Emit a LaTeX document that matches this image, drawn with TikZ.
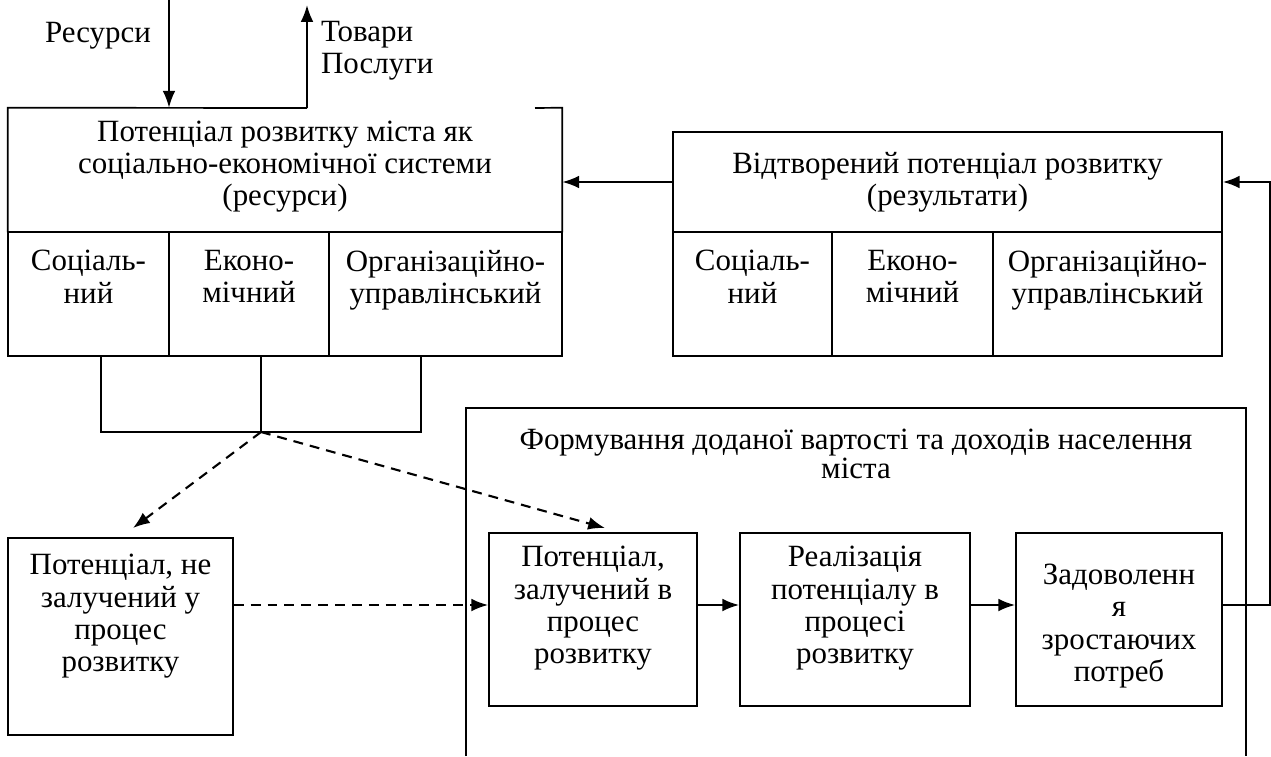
\documentclass[tikz,border=0pt]{standalone}
\usepackage{fontspec}
\setmainfont{Liberation Serif}
\usetikzlibrary{positioning,arrows.meta}

\tikzset{
	box/.style={draw,line width=1.2pt,inner sep=0pt},
	txt/.style={align=center,font=\fontsize{22}{23}\selectfont,inner sep=2pt},
	arr/.style={line width=1.5pt,-{Latex[length=0.42cm,width=0.32cm]}},
	darr/.style={line width=1.5pt,dash pattern=on 7pt off 5pt,-{Latex[length=0.42cm,width=0.32cm]}},
}

\begin{document}
\begin{tikzpicture}
	\useasboundingbox (0,0) rectangle (31.775,-18.9);
	% city potential
	\node[inner sep=0pt,minimum width=13.85cm,minimum height=3.1cm] (pot) at (7.125,-4.25) {};
	\node[txt,below=0.25cm of pot.north] (pottxt) {Потенціал розвитку міста як\\соціально-економічної системи\\(ресурси)};
	\node[box,minimum width=4.025cm,minimum height=3.1cm] (soc) at (2.2125,-7.35) {};
	\node[box,minimum width=4cm,minimum height=3.1cm] (eco) at (6.225,-7.35) {};
	\node[box,minimum width=5.825cm,minimum height=3.1cm] (org) at (11.1375,-7.35) {};
	\node[txt,below=0.4cm of soc.north] (soctxt) {Соціаль-\\ний};
	\node[txt,below=0.4cm of eco.north] (ecotxt) {Еконо-\\мічний};
	\node[txt,below=0.4cm of org.north] (orgtxt) {Організаційно-\\управлінський};
	\coordinate (tov) at (7.675,-2.7);
	\coordinate (gap) at (13.375,-2.7);
	\draw[line width=1.2pt] (tov) -- (pot.north west) -- (pot.south west);
	\draw[line width=1.2pt] (gap) -- (pot.north east) -- (pot.south east);
	% inputs and outputs
	\coordinate (resin) at (4.225,0);
	\coordinate (tovout) at (7.675,-0.125);
	\draw[arr] (resin) -- (resin |- pot.north);
	\draw[arr] (tov) -- (tovout);
	\node[txt,anchor=east] (reslbl) at (3.85,-0.9) {Ресурси};
	\node[txt,anchor=north west,align=left] (tovlbl) at (7.95,-0.45) {Товари\\Послуги};
	% reproduced potential
	\node[box,minimum width=13.725cm,minimum height=2.5cm] (res) at (23.6875,-4.55) {};
	\node[txt] (restxt) at (res) {Відтворений потенціал розвитку\\(результати)};
	\node[box,minimum width=3.975cm,minimum height=3.1cm] (socr) at (18.8125,-7.35) {};
	\node[box,minimum width=4.025cm,minimum height=3.1cm] (ecor) at (22.8125,-7.35) {};
	\node[box,minimum width=5.725cm,minimum height=3.1cm] (orgr) at (27.6875,-7.35) {};
	\node[txt,below=0.4cm of socr.north] (socrtxt) {Соціаль-\\ний};
	\node[txt,below=0.4cm of ecor.north] (ecortxt) {Еконо-\\мічний};
	\node[txt,below=0.4cm of orgr.north] (orgrtxt) {Організаційно-\\управлінський};
	\draw[arr] (res.west) -- (res.west -| pot.east);
	% split
	\coordinate (bl) at (2.525,-8.9);
	\coordinate (bm) at (6.525,-8.9);
	\coordinate (br) at (10.525,-8.9);
	\coordinate (hub) at (6.525,-10.8);
	\draw[line width=1.2pt] (bl) |- (hub) -| (br);
	\draw[line width=1.2pt] (bm) -- (hub);
	% not involved
	\node[box,minimum width=5.625cm,minimum height=4.925cm] (nz) at (3.0125,-15.9125) {};
	\node[txt,below=0.35cm of nz.north] (nztxt) {Потенціал, не\\залучений у\\процес\\розвитку};
	% value added
	\draw[line width=1.2pt] (11.65,-18.9) |- (31.15,-10.2) -- (31.15,-18.9);
	\node[txt,font=\fontsize{22}{21}\selectfont] (formtxt) at (21.4,-11.35) {Формування доданої вартості та доходів населення\\міста};
	\node[box,minimum width=5.2cm,minimum height=4.325cm] (b1) at (14.825,-15.4875) {};
	\node[box,minimum width=5.75cm,minimum height=4.325cm] (b2) at (21.375,-15.4875) {};
	\node[box,minimum width=5.15cm,minimum height=4.325cm] (b3) at (27.975,-15.4875) {};
	\node[txt,below=0.28cm of b1.north] (b1txt) {Потенціал,\\залучений в\\процес\\розвитку};
	\node[txt,below=0.28cm of b2.north] (b2txt) {Реалізація\\потенціалу в\\процесі\\розвитку};
	\node[txt,below=0.72cm of b3.north] (b3txt) {Задоволенн\\я\\зростаючих\\потреб};
	% flows
	\coordinate (mid) at (0,-15.125);
	\coordinate (nzin) at (3.325,-13.2);
	\coordinate (b1in) at (15.125,-13.2);
	\coordinate (fb) at (31.75,-10);
	\draw[darr] (hub) -- (nzin);
	\draw[darr] (hub) -- (b1in);
	\draw[darr] (nz.east |- mid) -- (b1.west |- mid);
	\draw[arr] (b1.east |- mid) -- (b2.west |- mid);
	\draw[arr] (b2.east |- mid) -- (b3.west |- mid);
	\draw[arr] (b3.east |- mid) -| (fb) |- (res.east);
\end{tikzpicture}
\end{document}
